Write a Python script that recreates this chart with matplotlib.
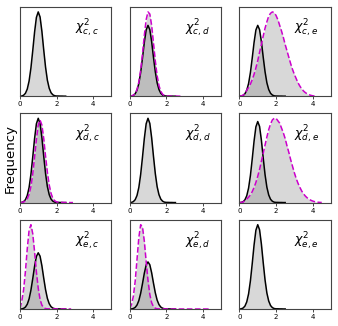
import numpy as np
import matplotlib.pyplot as plt

# --- DATA (curves sampled every 0.1 starting at x = 0) ---

paso_x = 0.1
n_puntos = 51

# black reference curve, same in every panel
curva_ref = [0.0, 0.003, 0.012, 0.035, 0.085, 0.18, 0.335, 0.54, 0.76, 0.935,
             1.0, 0.94, 0.77, 0.55, 0.345, 0.19, 0.095, 0.042, 0.017, 0.006,
             0.003, 0.003, 0.002, 0.002, 0.001, 0.001]

# magenta dashed curves (same units as the black one)
curva_cd = [0.001, 0.005, 0.015, 0.04, 0.095, 0.20, 0.37, 0.60, 0.86, 1.08,
            1.19, 1.16, 1.00, 0.75, 0.50, 0.29, 0.15, 0.07, 0.028, 0.010,
            0.004, 0.003, 0.003, 0.002, 0.002, 0.002, 0.002, 0.001, 0.001, 0.001]

curva_ce = [0.002, 0.006, 0.015, 0.035, 0.086, 0.123, 0.172, 0.234, 0.31, 0.40,
            0.50, 0.62, 0.73, 0.85, 0.96, 1.05, 1.13, 1.17, 1.19, 1.18,
            1.14, 1.08, 1.00, 0.92, 0.83, 0.73, 0.64, 0.55, 0.46, 0.38,
            0.31, 0.25, 0.19, 0.145, 0.105, 0.075, 0.052, 0.035, 0.022, 0.013,
            0.007, 0.004, 0.002]

curva_dc = [0.001, 0.003, 0.008, 0.02, 0.045, 0.10, 0.19, 0.34, 0.54, 0.75,
            0.92, 0.98, 0.92, 0.76, 0.55, 0.36, 0.21, 0.11, 0.05, 0.022,
            0.009, 0.004, 0.003, 0.003, 0.002, 0.002, 0.002, 0.001, 0.001, 0.001]

curva_de = [0.001, 0.003, 0.007, 0.029, 0.045, 0.067, 0.096, 0.136, 0.187, 0.25,
            0.325, 0.41, 0.51, 0.61, 0.71, 0.81, 0.90, 0.97, 1.02, 1.04,
            1.04, 1.01, 0.98, 0.92, 0.86, 0.79, 0.70, 0.62, 0.53, 0.45,
            0.37, 0.30, 0.24, 0.19, 0.145, 0.11, 0.082, 0.06, 0.043, 0.03,
            0.02, 0.013, 0.008, 0.005, 0.003, 0.002]

curva_ec = [0.01, 0.14, 0.34, 0.67, 1.07, 1.40, 1.50, 1.34, 1.02, 0.66,
            0.37, 0.17, 0.07, 0.024, 0.008, 0.005, 0.004, 0.004, 0.003, 0.003,
            0.003, 0.002, 0.002, 0.002, 0.002, 0.001, 0.001, 0.001, 0.001]

curva_ed = [0.01, 0.10, 0.27, 0.59, 1.05, 1.52, 1.79, 1.74, 1.44, 1.01,
            0.61, 0.31, 0.134, 0.05, 0.017, 0.007, 0.004, 0.004, 0.003, 0.003,
            0.003, 0.002, 0.002, 0.002, 0.002, 0.002, 0.002, 0.001, 0.001, 0.001,
            0.001, 0.001, 0.001, 0.001, 0.001, 0.001, 0.001, 0.001, 0.001, 0.001,
            0.001, 0.001, 0.001, 0.001, 0.001]

subindices = [["c,c", "c,d", "c,e"],
              ["d,c", "d,d", "d,e"],
              ["e,c", "e,d", "e,e"]]

curvas_panel = {
    (0, 1): curva_cd, (0, 2): curva_ce,
    (1, 0): curva_dc, (1, 2): curva_de,
    (2, 0): curva_ec, (2, 1): curva_ed,
}


def dibujar_curva(ax, x, valores, **estilo):
    y = np.array(valores)
    xs = x[:len(y)]
    ax.fill_between(xs, y, color='grey', alpha=0.3, lw=0)
    ax.plot(xs, y, **estilo)
    return y.max()


# --- VISUALIZACION ---

fig, axes = plt.subplots(3, 3, figsize=(3.38, 3.26), dpi=100)
fig.subplots_adjust(left=0.059, right=0.979, top=0.979, bottom=0.052,
                    wspace=0.2, hspace=0.19)

x = np.arange(n_puntos) * paso_x

for i in range(3):
    for j in range(3):
        ax = axes[i][j]
        y_max = dibujar_curva(ax, x, curva_ref, color='black', lw=1.1)
        if (i, j) in curvas_panel:
            y_m = dibujar_curva(ax, x, curvas_panel[(i, j)],
                                color='#cc00cc', ls='--', lw=1.1)
            y_max = max(y_max, y_m)
        ax.set_xlim(0, 5)
        ax.set_ylim(0, y_max * 1.06)
        ax.set_yticks([])
        ax.set_xticks([0, 2, 4])
        ax.tick_params(labelsize=5, length=2, width=0.5, pad=1.5)
        for s in ax.spines.values():
            s.set_color('#444444')
            s.set_linewidth(0.8)
        ax.text(0.6, 0.76, r'$\chi^2_{%s}$' % subindices[i][j],
                transform=ax.transAxes, fontsize=9, va='center')

fig.text(0.03, 0.515, 'Frequency', rotation=90, fontsize=9.5,
         ha='center', va='center')

fig.savefig('out.png', dpi=100)
